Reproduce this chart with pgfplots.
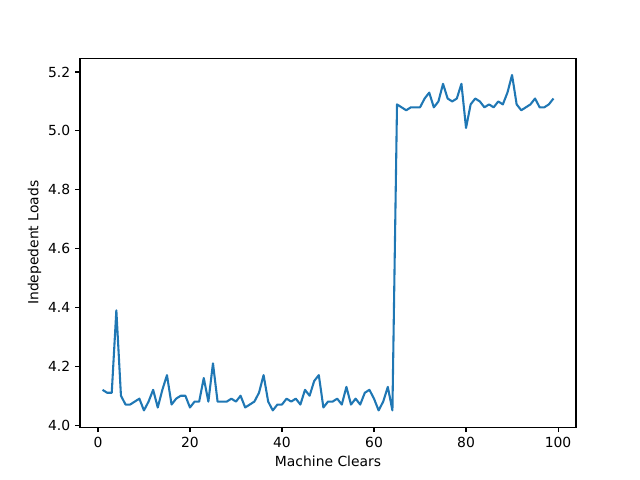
\documentclass[border=0pt]{standalone}
\usepackage{pgfplots}
\pgfplotsset{compat=1.18}
\usepackage{fontspec}
\setmainfont{DejaVu Sans}
\definecolor{mplblue}{HTML}{1F77B4}
\begin{document}
\begin{tikzpicture}
\path[use as bounding box] (0,0) rectangle (460.8pt,345.6pt);
\begin{axis}[
  at={(57.6pt,38.016pt)}, anchor=south west,
  scale only axis, width=357.12pt, height=265.68pt,
  xmin=-3.9, xmax=103.9, ymin=3.993, ymax=5.247,
  xtick={0,20,40,60,80,100},
  ytick={4.0,4.2,4.4,4.6,4.8,5.0,5.2},
  yticklabel style={/pgf/number format/.cd,fixed,fixed zerofill,precision=1},
  /pgf/number format/assume math mode=true,
  tick align=outside, tick pos=left,
  major tick length=3.5pt,
  every tick/.style={black, line width=0.8pt},
  axis line style={line width=0.8pt},
  tick label style={font=\fontsize{10pt}{12pt}\selectfont},
  label style={font=\fontsize{10pt}{12pt}\selectfont},
  xlabel={Machine Clears}, ylabel={Indepedent Loads},
  xlabel style={yshift=0.5pt},
  ylabel style={yshift=-2pt},
]
\addplot[mplblue, line width=1.5pt, line join=round] coordinates {
(1,4.12)(2,4.11)(3,4.11)(4,4.39)(5,4.10)(6,4.07)(7,4.07)(8,4.08)(9,4.09)(10,4.05)
(11,4.08)(12,4.12)(13,4.06)(14,4.12)(15,4.17)(16,4.07)(17,4.09)(18,4.10)(19,4.10)(20,4.06)
(21,4.08)(22,4.08)(23,4.16)(24,4.08)(25,4.21)(26,4.08)(27,4.08)(28,4.08)(29,4.09)(30,4.08)
(31,4.10)(32,4.06)(33,4.07)(34,4.08)(35,4.11)(36,4.17)(37,4.08)(38,4.05)(39,4.07)(40,4.07)
(41,4.09)(42,4.08)(43,4.09)(44,4.07)(45,4.12)(46,4.10)(47,4.15)(48,4.17)(49,4.06)(50,4.08)
(51,4.08)(52,4.09)(53,4.07)(54,4.13)(55,4.07)(56,4.09)(57,4.07)(58,4.11)(59,4.12)(60,4.09)
(61,4.05)(62,4.08)(63,4.13)(64,4.05)(65,5.09)(66,5.08)(67,5.07)(68,5.08)(69,5.08)(70,5.08)
(71,5.11)(72,5.13)(73,5.08)(74,5.10)(75,5.16)(76,5.11)(77,5.10)(78,5.11)(79,5.16)(80,5.01)
(81,5.09)(82,5.11)(83,5.10)(84,5.08)(85,5.09)(86,5.08)(87,5.10)(88,5.09)(89,5.13)(90,5.19)
(91,5.09)(92,5.07)(93,5.08)(94,5.09)(95,5.11)(96,5.08)(97,5.08)(98,5.09)(99,5.11)
};
\end{axis}
\end{tikzpicture}
\end{document}
